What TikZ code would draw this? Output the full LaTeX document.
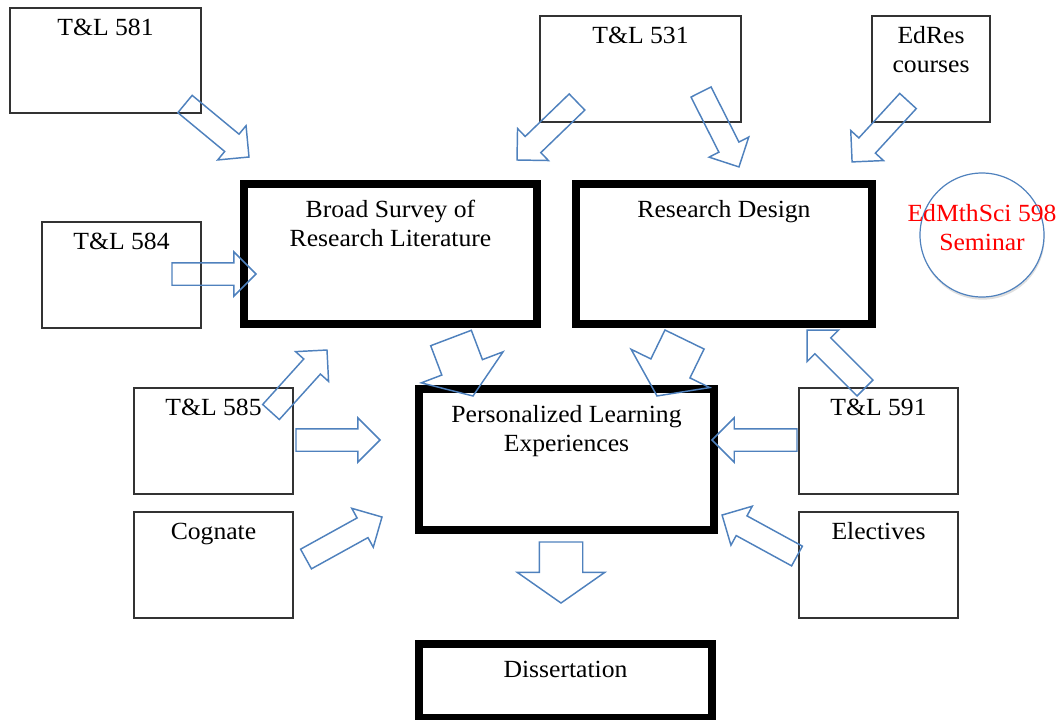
\documentclass[tikz,border=0pt]{standalone}
\usepackage{fontspec}
\setmainfont{Liberation Serif}[FakeStretch=1.04]
\usetikzlibrary{shapes.arrows,shadows,calc,positioning}
\definecolor{arrowblue}{RGB}{79,129,189}

\tikzset{
  box/.style 2 args={rectangle, draw, inner sep=0pt, outer sep=0pt,
    minimum width=#1*0.75pt, minimum height=#2*0.75pt},
  thinbox/.style 2 args={box={#1}{#2}, draw=black!80, line width=0.8pt},
  thickbox/.style 2 args={box={#1}{#2}, line width=6pt},
  tag/.style={font=\fontsize{18.5pt}{21.75pt}\selectfont, align=center,
    anchor=base, inner sep=0pt},
  blockarrow/.style={single arrow, draw=arrowblue, line width=1.1pt,
    inner xsep=0pt, outer sep=0pt, anchor=tail},
  smallarrow/.style={blockarrow, inner ysep=7.875pt,
    single arrow head extend=8.25pt, single arrow tip angle=90},
  bigarrow/.style={blockarrow, inner ysep=15.75pt,
    single arrow head extend=16.5pt, single arrow tip angle=110}
}

% block arrow from tail to tip
\newcommand{\blockarr}[4][smallarrow]{%
  \path let \p1=($(#4)-(#3)$), \n1={atan2(\y1,\x1)}, \n2={veclen(\x1,\y1)} in
    node[#1, minimum height=\n2, rotate=\n1] (#2) at (#3) {};}

\begin{document}
\begin{tikzpicture}[x=0.75pt,y=-0.75pt]
  \useasboundingbox (0,0) rectangle (1059,719);

  % course boxes
  \node[thinbox={191}{105}] (t581) at (105.5,60.5) {};
  \node[thinbox={159}{106}] (t584) at (121.5,275) {};
  \node[thinbox={159}{106}] (t585) at (213.5,441) {};
  \node[thinbox={159}{106}] (cognate) at (213.5,565) {};
  \node[thinbox={201}{106}] (t531) at (640.5,69) {};
  \node[thinbox={118}{106}] (edres) at (931,69) {};
  \node[thinbox={159}{106}] (t591) at (878.5,441) {};
  \node[thinbox={159}{106}] (electives) at (878.5,565) {};

  \node[tag] at ($(t581.north)+(0,27)$) {T\&L 581};
  \node[tag] at ($(t584.north)+(0,27)$) {T\&L 584};
  \node[tag] at ($(t585.north)+(0,27)$) {T\&L 585};
  \node[tag] at ($(cognate.north)+(0,27)$) {Cognate};
  \node[tag] at ($(t531.north)+(0,27)$) {T\&L 531};
  \node[tag] at ($(edres.north)+(0,56)$) {EdRes\\courses};
  \node[tag] at ($(t591.north)+(0,27)$) {T\&L 591};
  \node[tag] at ($(electives.north)+(0,27)$) {Electives};

  % main stages
  \node[thickbox={293}{140}] (survey) at (390.5,254) {};
  \node[thickbox={296}{140}] (design) at (724,254) {};
  \node[thickbox={295}{141}] (ple) at (566.5,459.5) {};
  \node[thickbox={293}{74}] (diss) at (565.5,681) {};

  \node[tag] at ($(survey.north)+(0,62)$) {Broad Survey of\\Research Literature};
  \node[tag] at ($(design.north)+(0,33)$) {Research Design};
  \node[tag] at ($(ple.north)+(0,62)$) {Personalized Learning\\Experiences};
  \node[tag] at ($(diss.north)+(0,33)$) {Dissertation};

  \node[circle, draw=arrowblue, line width=0.9pt, fill=white, minimum size=124*0.75pt,
    drop shadow={shadow xshift=0.5pt, shadow yshift=-2pt, opacity=0.25}] (seminar) at (982,235) {};
  \node[tag, text=red] at ($(seminar.center)+(0,15)$) {EdMthSci 598\\Seminar};

  % arrows
  \blockarr{a581}{185,104}{249,157}
  \blockarr{a584}{172,274}{256,274}
  \blockarr{a585s}{271,412}{327,350}
  \blockarr{a585p}{296,440}{380,440}
  \blockarr{acog}{306,559}{382,517}
  \blockarr{a531s}{577,102}{517,160}
  \blockarr{a531d}{701,92}{739,167}
  \blockarr{aedres}{908,101}{852,162}
  \blockarr{a591d}{865,388}{807,330}
  \blockarr{a591p}{797,440}{712,440}
  \blockarr{aelec}{797,556}{722,515}
  \blockarr[bigarrow]{asurvey}{451,338}{473,396}
  \blockarr[bigarrow]{adesign}{684.5,339.5}{657,396}
  \blockarr[bigarrow]{aple}{561,542}{561,603}
\end{tikzpicture}
\end{document}
